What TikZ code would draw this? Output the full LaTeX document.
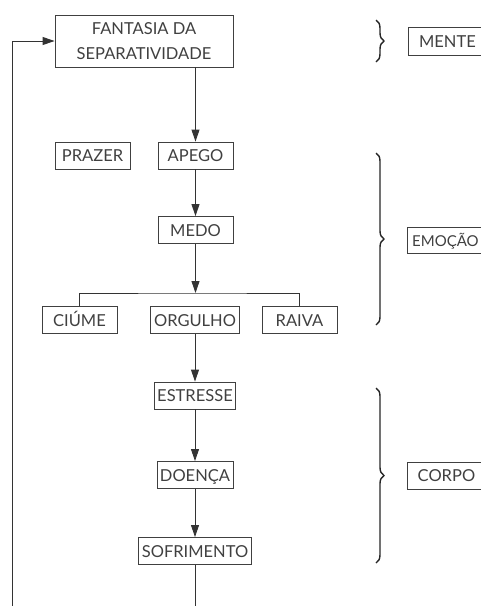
\documentclass[tikz,border=0pt]{standalone}
\usepackage{fontspec}
\setmainfont{Lato}
\usetikzlibrary{arrows.meta,decorations.pathreplacing}

\tikzset{
	box/.style={draw=black!75, line width=0.9pt, minimum width=75pt, minimum height=27pt,
		inner sep=3pt, text=black!75, font=\fontsize{16.5}{25}\selectfont,
		text height=12pt, text depth=0pt},
	flow/.style={draw=black!80, line width=0.9pt, -{Triangle[length=12pt,width=8pt]}},
	link/.style={draw=black!80, line width=0.9pt},
	bracket/.style={draw=black!85, line width=1.4pt, decorate,
		decoration={brace, amplitude=8pt}}
}

\begin{document}
\begin{tikzpicture}[x=1pt, y=-1pt]
			%%%%% START %%%%%
			\useasboundingbox (0, 0) rectangle (481, 606);
			\clip (0, 0) rectangle (481, 606);
			
			\node[box, minimum width=178pt, minimum height=52pt, align=center,
				text height=, text depth=] (fantasia) at (144, 41) {FANTASIA DA\\SEPARATIVIDADE};
			
			\node[box] (prazer) at (92.5, 155.5) {PRAZER};
			\node[box] (apego) at (195.5, 155.5) {APEGO};
			\node[box] (medo) at (195.5, 230) {MEDO};
			
			\node[box] (ciume) at (79.5, 320) {CIÚME};
			\node[box, minimum width=89pt] (orgulho) at (195, 320) {ORGULHO};
			\node[box] (raiva) at (299.5, 320) {RAIVA};
			
			\node[box] (estresse) at (195, 395.5) {ESTRESSE};
			\node[box] (doenca) at (195, 475) {DOENÇA};
			\node[box, minimum width=106pt] (sofrimento) at (195, 551) {SOFRIMENTO};
			
			\node[box, anchor=west, minimum width=78pt, minimum height=28pt] (mente) at (408, 41) {MENTE};
			\node[box, anchor=west, minimum width=76pt, minimum height=26pt, inner xsep=2pt,
				font=\fontsize{15}{25}\selectfont] (emocao) at (407, 240) {EMOÇÃO};
			\node[box, anchor=west, minimum width=78pt] (corpo) at (407, 475.5) {CORPO};
			
			% chain
			\draw[flow] (apego |- fantasia.south) -- (apego.north);
			\draw[flow] (apego) -- (medo);
			\coordinate (split) at (195.5, 293);
			\draw[flow] (medo) -- (split);
			\draw[link] (ciume.north) |- (split) -| (raiva.north);
			\draw[flow] (orgulho) -- (estresse);
			\draw[flow] (estresse) -- (doenca);
			\draw[flow] (doenca) -- (sofrimento);
			
			% return loop (runs out of the page)
			\coordinate (loopR) at (195, 625);
			\coordinate (loopL) at (12.5, 625);
			\draw[flow] (sofrimento.south) -- (loopR) -- (loopL) |- (fantasia.west);
			
			% braces
			\draw[bracket] (376, 20) -- (376, 62);
			\draw[bracket] (376, 153) -- (376, 325);
			\draw[bracket] (376, 388) -- (376, 563);
			
			%%%%% END %%%%%
\end{tikzpicture}
\end{document}
